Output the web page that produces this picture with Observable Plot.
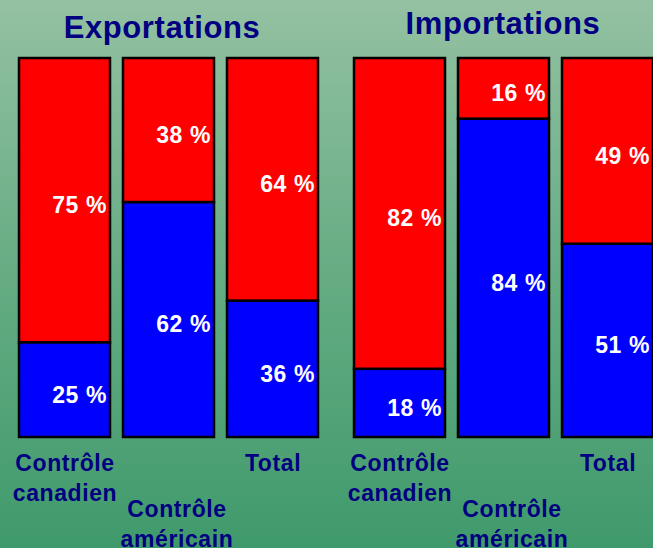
<!DOCTYPE html>
<html>
<head>
<meta charset="utf-8">
<script src="https://cdn.jsdelivr.net/npm/d3@7"></script>
<script src="https://cdn.jsdelivr.net/npm/@observablehq/plot@0.6"></script>
<style>
  html, body { margin: 0; padding: 0; }
  body {
    width: 653px; height: 548px; overflow: hidden;
    background: linear-gradient(to bottom, #94c1a2 0%, #6aae86 45%, #3f9a6b 100%);
    font-family: "Liberation Sans", Arial, sans-serif;
  }
</style>
</head>
<body>
<div id="chart"></div>
<script>
// ---- data ----
const panels = ["Exportations", "Importations"];
const categories = ["Contrôle canadien", "Contrôle américain", "Total"];
const categoryLabels = ["Contrôle\ncanadien", "Contrôle\naméricain", "Total"];
const exportBleu = [25, 62, 36];
const exportRouge = [75, 38, 64];
const importBleu = [18, 84, 51];
const importRouge = [82, 16, 49];
const seriesNames = ["bleu", "rouge"];
const seriesColors = ["#0000ff", "#ff0000"];

// build table (blue first so it stacks at the bottom)
const rows = [];
[[panels[0], exportBleu, exportRouge], [panels[1], importBleu, importRouge]].forEach(([panel, bleu, rouge]) => {
  categories.forEach((cat, i) => {
    rows.push({panel, cat, serie: seriesNames[0], value: bleu[i]});
    rows.push({panel, cat, serie: seriesNames[1], value: rouge[i]});
  });
});
const labelRows = [];
panels.forEach(panel => categories.forEach((cat, i) => labelRows.push({panel, cat, label: categoryLabels[i]})));

const font = {fontFamily: "'Liberation Sans', Arial, sans-serif", fontWeight: "bold"};

const chart = Plot.plot({
  width: 653,
  height: 548,
  marginTop: 58,
  marginBottom: 111,
  marginLeft: 19,
  marginRight: 0,
  facet: {marginTop: 0, marginBottom: 0, marginLeft: 0, marginRight: 0},
  style: {background: "transparent", overflow: "visible", letterSpacing: "0.6px"},
  fx: {domain: panels, paddingInner: 0.1075, paddingOuter: 0, axis: null},
  x: {domain: categories, paddingInner: 0.125, paddingOuter: 0, axis: null},
  y: {domain: [0, 100], axis: null},
  color: {domain: seriesNames, range: seriesColors},
  marks: [
    Plot.barY(rows, Plot.stackY({fx: "panel", x: "cat", y: "value", fill: "serie", stroke: "black", strokeWidth: 2.5, inset: 0})),
    Plot.text(rows, Plot.stackY({
      fx: "panel", x: "cat", y: "value", z: "serie",
      text: d => `${d.value} %`,
      fill: "white", fontSize: 23, ...font,
      textAnchor: "end", dx: 42, dy: 5
    })),
    // titles
    Plot.text([{panel: panels[0]}], {fx: "panel", text: "panel", frameAnchor: "top", lineAnchor: "bottom", dy: -21, dx: -7, fontSize: 31, fill: "#000080", ...font}),
    Plot.text([{panel: panels[1]}], {fx: "panel", text: "panel", frameAnchor: "top", lineAnchor: "bottom", dy: -25, dx: -1, fontSize: 31, fill: "#000080", ...font}),
    // category labels
    Plot.text(labelRows.filter(d => d.cat !== categories[1]), {
      fx: "panel", x: "cat", text: "label", frameAnchor: "bottom", lineAnchor: "top",
      dy: 12, lineHeight: 1.3, fontSize: 23, fill: "#000080", ...font
    }),
    Plot.text(labelRows.filter(d => d.cat === categories[1]), {
      fx: "panel", x: "cat", text: "label", frameAnchor: "bottom", lineAnchor: "top",
      dy: 58, dx: 8, lineHeight: 1.3, fontSize: 23, fill: "#000080", ...font
    })
  ]
});
document.getElementById("chart").appendChild(chart);
</script>
</body>
</html>
